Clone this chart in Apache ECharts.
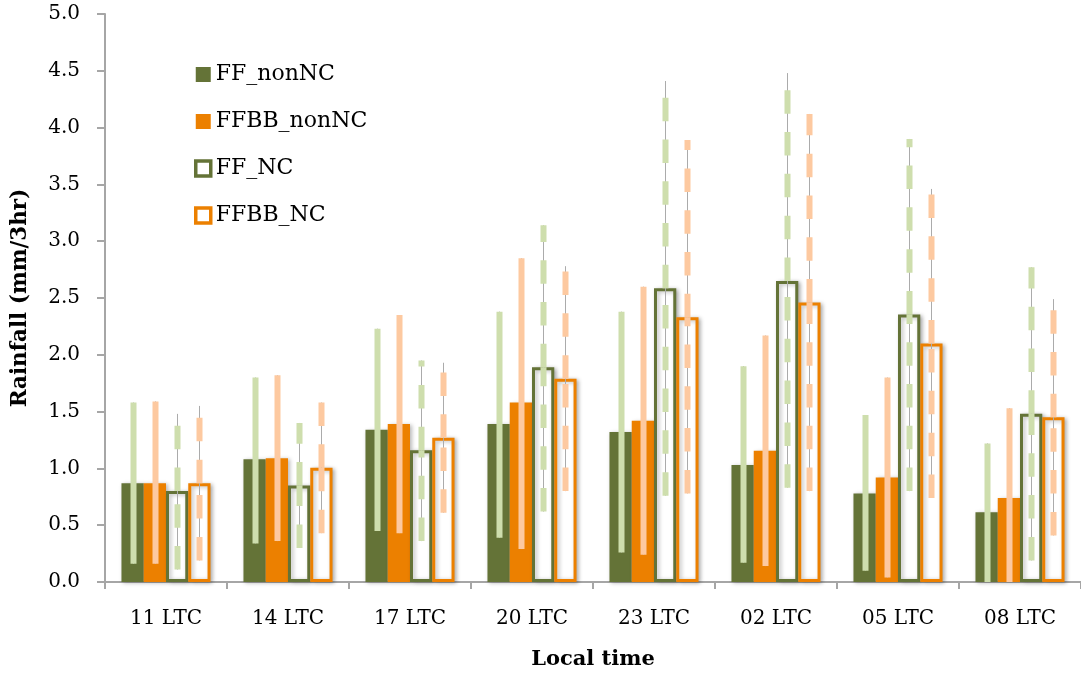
<!DOCTYPE html>
<html>
<head>
<meta charset="utf-8">
<title>Rainfall by local time</title>
<script src="https://cdn.jsdelivr.net/npm/echarts@6/dist/echarts.min.js"></script>
<style>
  html, body { margin: 0; padding: 0; background: #fff; }
  #chart { width: 1081px; height: 677px; }
</style>
</head>
<body>
<div id="chart"></div>
<script>
// Local-time categories
const categories = ['11 LTC', '14 LTC', '17 LTC', '20 LTC', '23 LTC', '02 LTC', '05 LTC', '08 LTC'];

// Mean rainfall (mm/3hr) per series
const ffNonNC   = [0.87, 1.08, 1.34, 1.39, 1.32, 1.03, 0.78, 0.615];
const ffbbNonNC = [0.87, 1.09, 1.39, 1.58, 1.42, 1.155, 0.92, 0.74];
const ffNC      = [0.80, 0.85, 1.16, 1.89, 2.585, 2.65, 2.355, 1.48];
const ffbbNC    = [0.87, 1.005, 1.27, 1.79, 2.33, 2.46, 2.10, 1.45];

// Error bar lower / upper ends
const ffNonNCLow    = [0.16, 0.34, 0.45, 0.39, 0.26, 0.17, 0.10, 0.0];
const ffNonNCHigh   = [1.58, 1.80, 2.23, 2.38, 2.38, 1.90, 1.47, 1.22];
const ffbbNonNCLow  = [0.16, 0.36, 0.43, 0.29, 0.24, 0.14, 0.04, 0.0];
const ffbbNonNCHigh = [1.59, 1.82, 2.35, 2.85, 2.60, 2.17, 1.80, 1.53];
const ffNCLow       = [0.11, 0.30, 0.36, 0.62, 0.76, 0.83, 0.80, 0.19];
const ffNCHigh      = [1.48, 1.40, 1.95, 3.14, 4.41, 4.48, 3.90, 2.77];
const ffbbNCLow     = [0.19, 0.43, 0.61, 0.80, 0.78, 0.80, 0.74, 0.41];
const ffbbNCHigh    = [1.55, 1.58, 1.93, 2.78, 3.89, 4.12, 3.46, 2.49];

// Y axis ticks
const yTicks = ['0.0', '0.5', '1.0', '1.5', '2.0', '2.5', '3.0', '3.5', '4.0', '4.5', '5.0'];

const OLIVE = '#647337';
const ORANGE = '#EC8000';
const LIGHT_GREEN = '#CEDEAD';
const LIGHT_ORANGE = '#FDC9A0';
const CAT_GAP = 0.27;
const FONT = "'DejaVu Serif', 'Liberation Serif', serif";

const shadow = {
  shadowColor: 'rgba(0,0,0,0.28)',
  shadowBlur: 4,
  shadowOffsetX: 2,
  shadowOffsetY: 1
};

function errRows(vals, lows, highs) {
  return vals.map((v, i) => [i, v, lows[i], highs[i]]);
}

// Error bar renderer: thin grey whisker plus a thick light bar,
// dashed for the NC series (minus part drawn up from the low end,
// plus part drawn up from the mean).
function errorRenderer(slot, dashed, color) {
  return function (params, api) {
    const cat = api.value(0);
    const val = api.value(1);
    const lo = api.value(2);
    const hi = api.value(3);
    const catW = api.size([1, 0])[0];
    const bw = catW * (1 - CAT_GAP) / 4;
    const pv = api.coord([cat, val]);
    const pl = api.coord([cat, lo]);
    const ph = api.coord([cat, hi]);
    const x = Math.round(pv[0] + (slot - 1.5) * bw);
    const children = [{
      type: 'line',
      shape: { x1: x + 0.5, y1: pl[1], x2: x + 0.5, y2: ph[1] },
      style: { stroke: '#ABABAB', lineWidth: 1 }
    }];
    if (dashed) {
      const dash = [23.5, 18.3];
      children.push({
        type: 'line',
        shape: { x1: x + 0.5, y1: pl[1], x2: x + 0.5, y2: pv[1] },
        style: { stroke: color, lineWidth: 6, lineDash: dash, lineCap: 'butt' }
      });
      children.push({
        type: 'line',
        shape: { x1: x + 0.5, y1: pv[1], x2: x + 0.5, y2: ph[1] },
        style: { stroke: color, lineWidth: 6, lineDash: dash, lineCap: 'butt' }
      });
    } else {
      children.push({
        type: 'line',
        shape: { x1: x + 0.5, y1: pl[1], x2: x + 0.5, y2: ph[1] },
        style: { stroke: color, lineWidth: 6, lineCap: 'butt' }
      });
    }
    return { type: 'group', children: children };
  };
}

function errSeries(slot, dashed, color, rows) {
  return {
    type: 'custom',
    silent: true,
    z: 5,
    renderItem: errorRenderer(slot, dashed, color),
    encode: { x: 0, y: [1, 2, 3] },
    data: rows
  };
}

const chart = echarts.init(document.getElementById('chart'), null, { renderer: 'canvas' });

chart.setOption({
  animation: false,
  backgroundColor: '#fff',
  grid: { left: 105, right: 0, top: 14, bottom: 95 },
  legend: {
    orient: 'vertical',
    left: 194,
    top: 62,
    padding: 0,
    itemWidth: 15,
    itemHeight: 15,
    itemGap: 22,
    icon: 'rect',
    textStyle: { fontFamily: FONT, fontSize: 22, lineHeight: 25, color: '#000' },
    data: [
      { name: 'FF_nonNC', itemStyle: { color: OLIVE, borderWidth: 0 } },
      { name: 'FFBB_nonNC', itemStyle: { color: ORANGE, borderWidth: 0 } },
      { name: 'FF_NC', itemStyle: { color: '#fff', borderColor: OLIVE, borderWidth: 3.5 } },
      { name: 'FFBB_NC', itemStyle: { color: '#fff', borderColor: ORANGE, borderWidth: 3.5 } }
    ]
  },
  xAxis: {
    type: 'category',
    data: categories,
    name: 'Local time',
    nameLocation: 'middle',
    nameGap: 67,
    nameTextStyle: { fontFamily: FONT, fontSize: 21, fontWeight: 'bold', color: '#000' },
    axisLine: { lineStyle: { color: '#A6A6A6', width: 2 } },
    axisTick: { show: true, length: 7, lineStyle: { color: '#A6A6A6', width: 2 } },
    axisLabel: { fontFamily: FONT, fontSize: 20, color: '#000', margin: 27 },
    splitLine: { show: false }
  },
  yAxis: {
    type: 'value',
    min: 0,
    max: 5,
    interval: 0.5,
    name: 'Rainfall (mm/3hr)',
    nameLocation: 'middle',
    nameRotate: 90,
    nameGap: 74,
    nameTextStyle: { fontFamily: FONT, fontSize: 21.5, fontWeight: 'bold', color: '#000' },
    axisLine: { show: true, lineStyle: { color: '#A6A6A6', width: 2 } },
    axisTick: { show: true, length: 8, lineStyle: { color: '#A6A6A6', width: 2 } },
    axisLabel: {
      fontFamily: FONT, fontSize: 20, color: '#000', margin: 25,
      formatter: function (v) { return yTicks[Math.round(v / 0.5)]; }
    },
    splitLine: { show: false }
  },
  series: [
    {
      name: 'FF_nonNC', type: 'bar', data: ffNonNC,
      barGap: '0%', barCategoryGap: (CAT_GAP * 100) + '%',
      itemStyle: Object.assign({ color: OLIVE }, shadow)
    },
    {
      name: 'FFBB_nonNC', type: 'bar', data: ffbbNonNC,
      itemStyle: Object.assign({ color: ORANGE }, shadow)
    },
    {
      name: 'FF_NC', type: 'bar', data: ffNC,
      itemStyle: Object.assign({ color: '#fff', borderColor: OLIVE, borderWidth: 3 }, shadow)
    },
    {
      name: 'FFBB_NC', type: 'bar', data: ffbbNC,
      itemStyle: Object.assign({ color: '#fff', borderColor: ORANGE, borderWidth: 3 }, shadow)
    },
    errSeries(0, false, LIGHT_GREEN, errRows(ffNonNC, ffNonNCLow, ffNonNCHigh)),
    errSeries(1, false, LIGHT_ORANGE, errRows(ffbbNonNC, ffbbNonNCLow, ffbbNonNCHigh)),
    errSeries(2, true, LIGHT_GREEN, errRows(ffNC, ffNCLow, ffNCHigh)),
    errSeries(3, true, LIGHT_ORANGE, errRows(ffbbNC, ffbbNCLow, ffbbNCHigh))
  ]
});
</script>
</body>
</html>
